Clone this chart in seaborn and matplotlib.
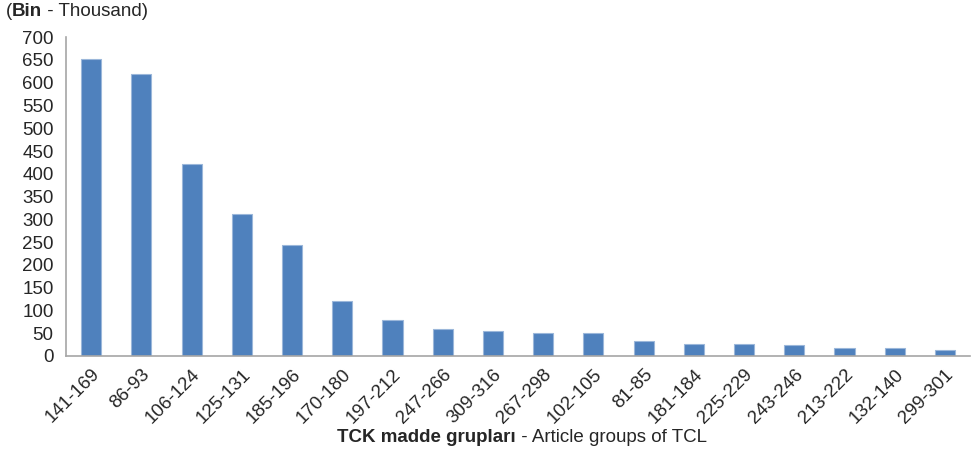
import numpy as np
import pandas as pd
import seaborn as sns
import matplotlib.pyplot as plt

groups = ['141-169', '86-93', '106-124', '125-131', '185-196', '170-180',
          '197-212', '247-266', '309-316', '267-298', '102-105', '81-85',
          '181-184', '225-229', '243-246', '213-222', '132-140', '299-301']
values = [652, 619, 421, 312, 244, 121, 79, 59, 55, 50, 50, 33,
          26, 26, 24, 18, 18, 13]


def main():
    df = pd.DataFrame({'group': groups, 'value': values})

    sns.set_style('white')
    plt.rcParams['font.family'] = ['Liberation Sans', 'DejaVu Sans']
    text_color = '#262626'
    axis_color = '#a6a6a6'
    fs = 13.5

    fig = plt.figure(figsize=(9.72, 4.54), dpi=100)
    ax = fig.add_axes([0.068, 0.216, 0.93, 0.702])

    sns.barplot(data=df, x='group', y='value', color='#4f81bd', width=0.4,
                saturation=1, edgecolor='#9bb7da', linewidth=0.8, ax=ax)

    ax.set_ylim(0, 700)
    ax.set_yticks(np.arange(0, 701, 50))
    ax.set_xlim(-0.5, len(groups) - 0.5)

    for side in ['top', 'right']:
        ax.spines[side].set_visible(False)
    for side in ['left', 'bottom']:
        ax.spines[side].set_color(axis_color)
        ax.spines[side].set_linewidth(1.2)

    # ticks sit between the categories, labels under the bars
    ax.set_xticks(np.arange(-0.5, len(groups), 1), minor=True)
    ax.tick_params(axis='x', which='minor', length=5, width=1.2,
                   color=axis_color, direction='out')
    ax.tick_params(axis='x', which='major', length=0, pad=7)
    ax.tick_params(axis='y', length=5, width=1.2, color=axis_color,
                   direction='out', pad=4)
    ax.set_xticks(range(len(groups)))
    ax.set_xticklabels(groups, rotation=45, ha='right', rotation_mode='anchor',
                       fontsize=fs, color=text_color)
    for lab in ax.get_yticklabels():
        lab.set_fontsize(fs)
        lab.set_color(text_color)

    ax.set_xlabel('')
    ax.set_ylabel('')

    # unit note, top left
    t1 = fig.text(0.006, 0.965, '(', fontsize=fs, color=text_color, va='baseline')
    a2 = ax.annotate('Bin', xy=(1, 0), xycoords=t1, va='bottom',
                     fontsize=fs, color=text_color, fontweight='bold',
                     annotation_clip=False)
    ax.annotate(' - Thousand)', xy=(1, 0), xycoords=a2, va='bottom',
                fontsize=fs, color=text_color, annotation_clip=False)

    # x axis title, bold Turkish part then English part
    x1 = fig.text(0.347, 0.027, 'TCK madde grupları', fontsize=fs,
                  color=text_color, fontweight='bold', va='baseline')
    ax.annotate(' - Article groups of TCL', xy=(1, 0), xycoords=x1,
                va='bottom', fontsize=fs, color=text_color,
                annotation_clip=False)

    plt.savefig('out.png', dpi=100)
    plt.close()


if __name__ == '__main__':
    main()
